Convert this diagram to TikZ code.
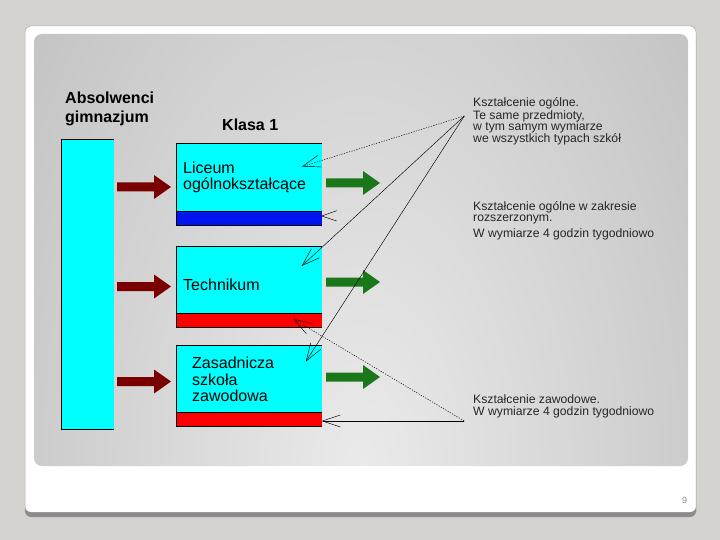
\documentclass[tikz,border=0pt]{standalone}
\usepackage{fontspec}
\setmainfont{Liberation Sans}
\usetikzlibrary{arrows.meta}
\definecolor{bg}{RGB}{212,211,208}
\definecolor{fshadow}{RGB}{140,140,140}
\definecolor{pin}{RGB}{234,234,234}
\definecolor{pout}{RGB}{160,160,160}
\definecolor{boxcyan}{RGB}{0,255,255}
\definecolor{barblue}{RGB}{0,20,240}
\definecolor{barred}{RGB}{255,0,0}
\definecolor{darkred}{RGB}{122,0,0}
\definecolor{darkgreen}{RGB}{26,120,26}
\begin{document}
\begin{tikzpicture}[x=1pt,y=-1pt,
  edgeline/.style={draw=black, line width=0.6pt},
  head/.style={anchor=base west, inner sep=0pt, font=\fontsize{16}{19}\selectfont\bfseries},
  boxtext/.style={anchor=base west, inner sep=0pt, font=\fontsize{16}{19}\selectfont},
  note/.style={anchor=base west, inner sep=0pt, font=\fontsize{12.2}{14}\selectfont, text=black!85},
  link/.style={draw=black, line width=0.45pt, -{Straight Barb[length=18pt,width=12pt,line width=0.45pt]}},
  dotlink/.style={link, dash pattern=on 1.3pt off 1.3pt},
  blockarrow/.pic={\fill (0,-4.5) -- (37,-4.5) -- (37,-12) -- (54,0) -- (37,12) -- (37,4.5) -- (0,4.5) -- cycle;}
]
\useasboundingbox (0,0) rectangle (720,540);
% slide background
\fill[bg] (0,0) rectangle (720,540);
\fill[fshadow, rounded corners=6] (25,30) rectangle (696,517);
\fill[white, rounded corners=6] (25,26) rectangle (696,512);
\draw[black!35, line width=0.5pt, rounded corners=6] (25,512) -- (25,26) -- (696,26) -- (696,512);
\begin{scope}
  \clip[rounded corners=8] (34,34) rectangle (688,466);
  \shade[inner color=pin, outer color=pout] (-439,-934) rectangle (1161,1866);
\end{scope}
\node[anchor=base west, inner sep=0pt, font=\fontsize{9}{10}\selectfont, text=black!45] (pagenum) at (682,503) {9};

% left column
\fill[boxcyan] (61,139) rectangle (114,429);
\draw[edgeline] (114,139) -- (61,139) -- (61,429) -- (114,429);
\node[head] (abs1) at (65,104) {Absolwenci};
\node[head] (abs2) at (65,123) {gimnazjum};
\node[head] (klasa) at (222,131) {Klasa 1};

% school boxes
\fill[boxcyan] (176,143) rectangle (322,211);
\fill[barblue] (176,211) rectangle (322,225);
\draw[edgeline] (322,143) -- (176,143) -- (176,225) -- (322,225) (176,211) -- (322,211);
\fill[boxcyan] (176,246) rectangle (322,313);
\fill[barred] (176,313) rectangle (322,327);
\draw[edgeline] (322,246) -- (176,246) -- (176,327) -- (322,327) (176,313) -- (322,313);
\fill[boxcyan] (176,345) rectangle (322,412);
\fill[barred] (176,412) rectangle (322,426.5);
\draw[edgeline] (322,345) -- (176,345) -- (176,426.5) -- (322,426.5) (176,412) -- (322,412);

\node[boxtext] (lic1) at (183,174) {Liceum};
\node[boxtext] (lic2) at (183,190) {ogólnokształcące};
\node[boxtext] (tech) at (183,290) {Technikum};
\node[boxtext] (zsz1) at (192,368) {Zasadnicza};
\node[boxtext] (zsz2) at (192,385) {szkoła};
\node[boxtext] (zsz3) at (192,401) {zawodowa};

% block arrows
\pic[fill=darkred] at (117,187) {blockarrow};
\pic[fill=darkred] at (117,286.5) {blockarrow};
\pic[fill=darkred] at (117,381.5) {blockarrow};
\pic[fill=darkgreen] at (326,183) {blockarrow};
\pic[fill=darkgreen] at (326,282) {blockarrow};
\pic[fill=darkgreen] at (326,377) {blockarrow};

% notes
\node[note] (n11) at (473,107) {Kształcenie ogólne.};
\node[note] (n12) at (473,119.3) {Te same przedmioty,};
\node[note] (n13) at (473,131) {w tym samym wymiarze};
\node[note] (n14) at (473,143) {we wszystkich typach szkół};
\node[note] (n21) at (473,211) {Kształcenie ogólne w zakresie};
\node[note] (n22) at (473,222) {rozszerzonym.};
\node[note] (n23) at (473,237) {W wymiarze 4 godzin tygodniowo};
\node[note] (n31) at (473,403) {Kształcenie zawodowe.};
\node[note] (n32) at (473,415) {W wymiarze 4 godzin tygodniowo};

% connectors
\coordinate (srcA) at (464.3,116);
\coordinate (srcB) at (464.3,421);
\coordinate (tLic) at (301.7,166.7);
\coordinate (tTech) at (301.7,266);
\coordinate (tZsz) at (305.7,361.7);
\coordinate (tTechBar) at (293.3,319);
\coordinate (tZszBar) at (321.7,421);
\coordinate (tLicBar) at (321.7,216);
\draw[dotlink] (srcA) -- (tLic);
\draw[link] (srcA) -- (tTech);
\draw[link] (srcA) -- (tZsz);
\draw[dotlink] (srcB) -- (tTechBar);
\draw[link] (srcB) -- (tZszBar);
\draw[black, line width=0.45pt] (336.7,210.7) -- (tLicBar) -- (336.7,221);
\end{tikzpicture}
\end{document}
